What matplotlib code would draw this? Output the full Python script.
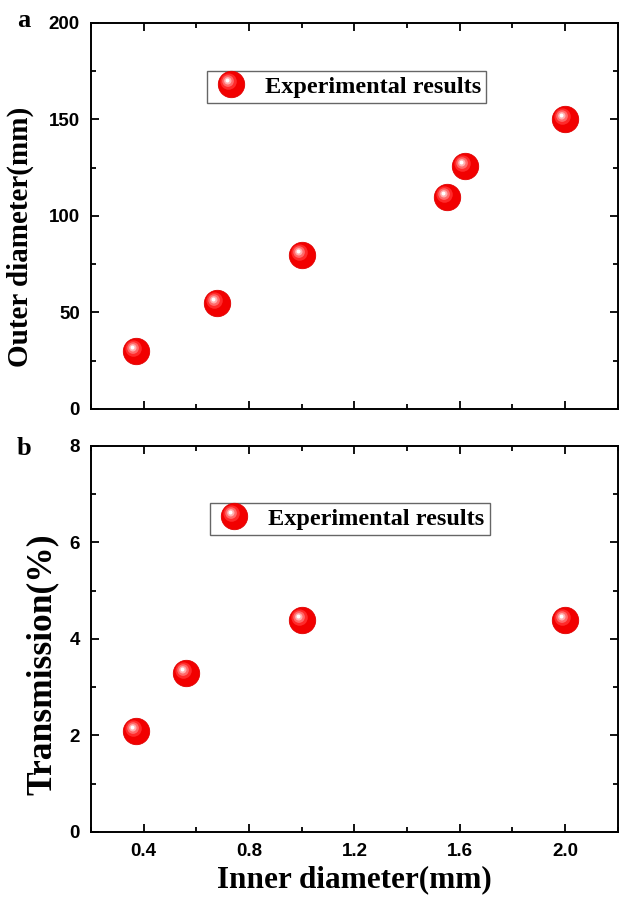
import matplotlib
matplotlib.use('Agg')
import matplotlib.pyplot as plt
import numpy as np
from matplotlib.path import Path
from matplotlib.legend_handler import HandlerTuple
from matplotlib.ticker import MultipleLocator

# panel a
inner_a = [0.37, 0.68, 1.0, 1.55, 1.62, 2.0]
outer_a = [30, 55, 80, 110, 126, 150]
# panel b
inner_b = [0.37, 0.56, 1.0, 2.0]
trans_b = [2.1, 3.3, 4.4, 4.4]
legend_label = 'Experimental results'

serif = 'Liberation Serif'
sans = 'Liberation Sans'


def spot_marker(cx, cy, r):
    # offset circle; a zero-area diagonal pins the marker box to [-1, 1]
    circ = Path.circle((cx, cy), r)
    verts = np.vstack([[[-1, -1], [1, 1]], circ.vertices])
    codes = np.concatenate([[Path.MOVETO, Path.LINETO], circ.codes])
    return Path(verts, codes)


# soft highlight built from a few stacked discs
shine = [(spot_marker(-0.22, 0.22, 0.62), '#ff2a2a'),
         (spot_marker(-0.26, 0.26, 0.44), '#ff6a6a'),
         (spot_marker(-0.28, 0.28, 0.28), '#ffb0b0'),
         (spot_marker(-0.3, 0.3, 0.15), '#ffffff')]
MS = 19


def spheres(ax, x, y):
    hs = []
    h, = ax.plot(x, y, 'o', ms=MS, mfc='#f20000', mec='#e00000', mew=0.6, ls='none')
    hs.append(h)
    for m, c in shine:
        h, = ax.plot(x, y, ls='none', marker=m, ms=MS, mfc=c, mec='none')
        hs.append(h)
    return tuple(hs)


def style(ax):
    for s in ax.spines.values():
        s.set_linewidth(1.4)
    ax.xaxis.set_major_locator(MultipleLocator(0.4))
    ax.xaxis.set_minor_locator(MultipleLocator(0.2))
    ax.tick_params(which='both', direction='in', top=True, right=True, width=1.3)
    ax.tick_params(which='major', length=6, pad=8)
    ax.tick_params(which='minor', length=3.5)
    for t in ax.get_xticklabels() + ax.get_yticklabels():
        t.set_fontfamily(sans)
        t.set_fontweight('bold')
        t.set_fontsize(13.5)


def add_legend(ax, h, x0, y0):
    ax.legend([h], [legend_label], handler_map={tuple: HandlerTuple(ndivide=1, pad=0)},
              loc='upper left', bbox_to_anchor=(x0, y0), fancybox=False, edgecolor='#666666',
              prop={'family': serif, 'weight': 'bold', 'size': 17.5}, handlelength=1.6,
              handletextpad=0.6, borderpad=0.2, borderaxespad=0, framealpha=1)


fig = plt.figure(figsize=(6.22, 9), dpi=100)
ax1 = fig.add_axes([0.1463, 0.5456, 0.847, 0.4289])
ax2 = fig.add_axes([0.1463, 0.0756, 0.847, 0.4289])

h = spheres(ax1, inner_a, outer_a)
ax1.set_xlim(0.2, 2.2)
ax1.set_ylim(0, 200)
ax1.yaxis.set_major_locator(MultipleLocator(50))
ax1.yaxis.set_minor_locator(MultipleLocator(25))
ax1.set_xticklabels([])
style(ax1)
ax1.set_ylabel('Outer diameter(mm)', fontfamily=serif, fontweight='bold', fontsize=21)
ax1.yaxis.set_label_coords(-0.108, 0.445)
add_legend(ax1, h, 0.22, 0.876)

h = spheres(ax2, inner_b, trans_b)
ax2.set_xlim(0.2, 2.2)
ax2.set_ylim(0, 8)
ax2.yaxis.set_major_locator(MultipleLocator(2))
ax2.yaxis.set_minor_locator(MultipleLocator(1))
style(ax2)
ax2.set_ylabel('Transmission(%)', fontfamily=serif, fontweight='bold', fontsize=25.5)
ax2.yaxis.set_label_coords(-0.062, 0.435)
ax2.set_xlabel('Inner diameter(mm)', fontfamily=serif, fontweight='bold', fontsize=22.5)
ax2.xaxis.set_label_coords(0.5, -0.086)
add_legend(ax2, h, 0.226, 0.852)

fig.text(0.027, 0.97, 'a', fontfamily=serif, fontweight='bold', fontsize=19, va='baseline')
fig.text(0.027, 0.4944, 'b', fontfamily=serif, fontweight='bold', fontsize=19, va='baseline')

fig.savefig('out.png', dpi=100)
